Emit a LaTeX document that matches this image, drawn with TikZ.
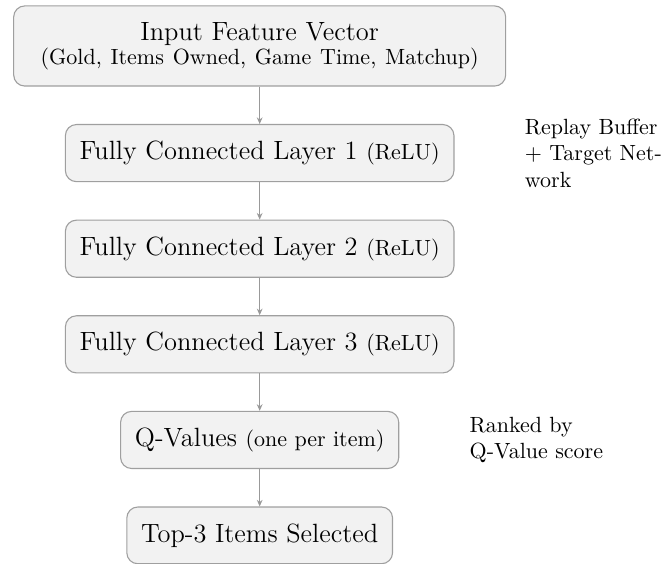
\documentclass[tikz,border=0pt]{standalone}
\usepackage{amsmath,amssymb}
\usetikzlibrary{positioning,arrows.meta}

\begin{document}
\begin{tikzpicture}[
    layer/.style={draw=gray!75,fill=gray!10,rounded corners=5pt,line width=0.5pt,
                  inner xsep=6.5pt,inner ysep=7.5pt,align=center,font=\large},
    note/.style={text width=2.4cm,align=left,inner sep=3.33pt,
                 font={\normalsize\exhyphenpenalty=10000\relax}},
    flow/.style={draw=gray!80,line width=0.5pt,-{Stealth[length=3pt,width=2.6pt]}},
    node distance=17pt
  ]
    \useasboundingbox (-118pt,20.9pt) rectangle (186pt,-235pt);
    \node[layer,text width=7.4cm] (input) at (0,0)
      {Input Feature Vector\\[-3.3pt]{\normalsize (Gold, Items Owned, Game Time, Matchup)}};
    \node[layer,below=of input] (fc1) {Fully Connected Layer 1 {\normalsize (ReLU)}};
    \node[layer,below=of fc1] (fc2) {Fully Connected Layer 2 {\normalsize (ReLU)}};
    \node[layer,below=of fc2] (fc3) {Fully Connected Layer 3 {\normalsize (ReLU)}};
    \node[layer,below=of fc3] (qval) {Q-Values {\normalsize (one per item)}};
    \node[layer,below=of qval] (topk) {Top-3 Items Selected};
    % side notes
    \node[note,right=1cm of fc1.east,anchor=west] (buffer) {Replay Buffer + Target Network};
    \node[note,right=1cm of qval.east,anchor=west] (rank) {Ranked by Q-Value score};
    \draw[flow] (input) -- (fc1);
    \draw[flow] (fc1) -- (fc2);
    \draw[flow] (fc2) -- (fc3);
    \draw[flow] (fc3) -- (qval);
    \draw[flow] (qval) -- (topk);
  \end{tikzpicture}
\end{document}
